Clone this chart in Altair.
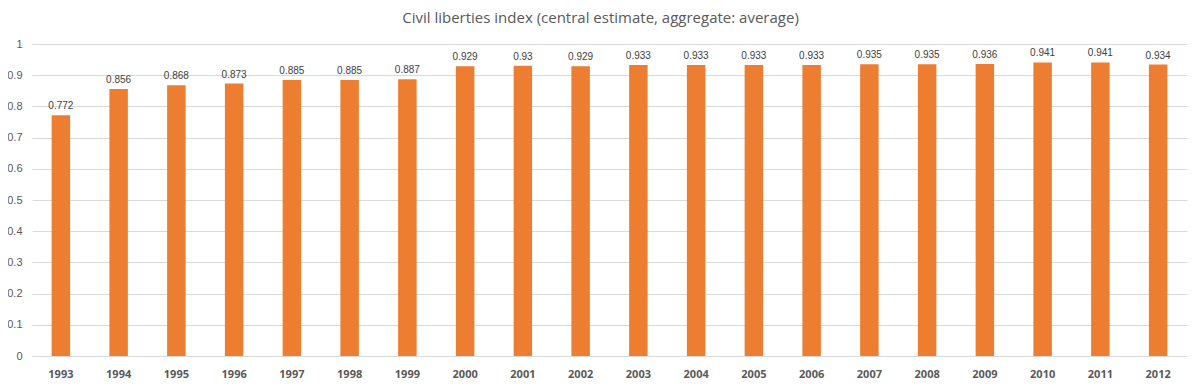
import altair as alt
import pandas as pd

years = [str(y) for y in range(1993, 2013)]
values = [0.772, 0.856, 0.868, 0.873, 0.885, 0.885, 0.887, 0.929, 0.93, 0.929,
          0.933, 0.933, 0.933, 0.933, 0.935, 0.935, 0.936, 0.941, 0.941, 0.934]
labels = ["0.772", "0.856", "0.868", "0.873", "0.885", "0.885", "0.887", "0.929", "0.93", "0.929",
          "0.933", "0.933", "0.933", "0.933", "0.935", "0.935", "0.936", "0.941", "0.941", "0.934"]
ticks = [0, 0.1, 0.2, 0.3, 0.4, 0.5, 0.6, 0.7, 0.8, 0.9, 1]

df = pd.DataFrame({"year": years, "value": values, "label": labels})

FONT = "Open Sans"
LFONT = "Liberation Sans"
GRAY = "#595959"

x = alt.X("year:N", sort=years, title=None,
          scale=alt.Scale(paddingInner=0.68, paddingOuter=0.34),
          axis=alt.Axis(labelAngle=0, labelFontWeight="bold", labelColor=GRAY,
                        labelFontSize=11, labelFont=FONT, ticks=False, domain=False,
                        labelPadding=12, grid=False))
y = alt.Y("value:Q", title=None,
          scale=alt.Scale(domain=[0, 1], nice=False),
          axis=alt.Axis(values=ticks, tickCount=20, labelExpr="format(datum.value, '~g')",
                        labelColor=GRAY, labelFontSize=11, labelFont=LFONT, ticks=False,
                        labelOverlap=False, labelBound=False, labelFlush=False,
                        domain=False, gridColor="#D9D9D9", gridWidth=1, labelPadding=10))

bars = alt.Chart(df).mark_bar(color="#ED7D31").encode(x=x, y=y)
text = alt.Chart(df).mark_text(baseline="bottom", dy=-4, fontSize=10, color="#404040", font=LFONT).encode(
    x=alt.X("year:N", sort=years), y="value:Q", text="label:N")

chart = (bars + text).properties(
    width=1155, height=312,
    autosize="none",
    padding={"left": 24, "top": 36, "right": 5, "bottom": 23},
    title=alt.TitleParams("Civil liberties index (central estimate, aggregate: average)",
                          font=FONT, fontSize=15, fontWeight="normal", color=GRAY,
                          anchor="middle", offset=12, dx=-9),
).configure_view(stroke=None)

chart.save("out.html", embed_options={"renderer": "svg", "actions": False})
